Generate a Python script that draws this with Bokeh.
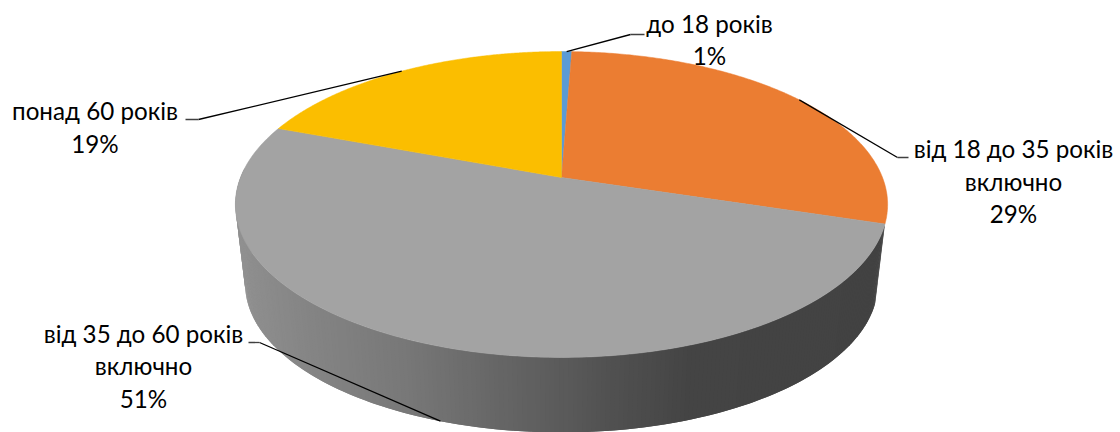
import numpy as np
from bokeh.plotting import figure
from bokeh.models import Range1d
from bokeh.core.properties import value
from bokeh.embed import file_html
from bokeh.resources import INLINE

categories = ["до 18 років", "від 18 до 35 років включно", "від 35 до 60 років включно", "понад 60 років"]
shares = [0.6, 29.2, 50.9, 19.3]
percent_labels = ["1%", "29%", "51%", "19%"]
slice_colors = ["#5B9BD5", "#EB7D32", "#A3A3A3", "#FBBE00"]

label_lines = [
    ["до 18 років", "1%"],
    ["від 18 до 35 років", "включно", "29%"],
    ["від 35 до 60 років", "включно", "51%"],
    ["понад 60 років", "19%"],
]
label_centers = [709, 1013, 143, 94.5]
label_tops = [22.5, 148, 332.5, 110]
elbows = [(630, 34, 644), (897, 157, 908), (259, 342, 248), (198, 119, 185)]

CX, CY, A, B, K = 561, 177, 321.0, 148.2, 0.1765
SCALE, DROP = 0.97, 80.4
FONT = "Lato"
FONT_PX = 24.2
LINE_PX = 32.5


def top_point(frac):
    t = 2 * np.pi * np.asarray(frac, dtype=float)
    u, v = np.sin(t), np.cos(t)
    w = 1 + K * v
    return CX + A * u / w, CY - B * v / w


def bottom_point(frac):
    x, y = top_point(frac)
    return CX + (x - CX) * SCALE, CY + (y - CY) * SCALE + DROP


def wall_color(x):
    g = np.interp(x, [235, 300, 400, 500, 561, 600, 690, 890], [144, 133, 120, 101, 90, 82, 68, 66])
    h = int(round(float(g)))
    return f"#{h:02x}{h:02x}{h:02x}"


p = figure(width=1120, height=432, output_backend="svg", toolbar_location=None,
           x_range=Range1d(0, 1120), y_range=Range1d(432, 0), min_border=0,
           outline_line_color=None, background_fill_color="white", border_fill_color="white")
p.axis.visible = False
p.grid.visible = False

total = sum(shares)
edges = np.cumsum([0] + shares) / total

# side wall of the large slice
fr = np.linspace(edges[2], min(edges[3], 0.76), 240)
wx, wy, wc = [], [], []
for j in range(len(fr) - 1):
    a = fr[j]
    b = fr[min(j + 2, len(fr) - 1)]
    x1, y1 = top_point([a, b])
    x2, y2 = bottom_point([b, a])
    wx.append(list(x1) + list(x2))
    wy.append(list(y1) + list(y2))
    wc.append(wall_color((x1[0] + x1[1]) / 2))
p.patches(wx, wy, fill_color=wc, line_color=None)

# top faces
for i, c in enumerate(slice_colors):
    f = np.linspace(edges[i], edges[i + 1], 200)
    x, y = top_point(f)
    p.patch([CX] + list(x), [CY] + list(y), fill_color=c, line_color=c, line_width=0.5)

# leader lines
for i, (ex, ey, ex2) in enumerate(elbows):
    mid = (edges[i] + edges[i + 1]) / 2
    sx, sy = bottom_point(mid) if i == 2 else top_point(mid)
    p.line([float(sx), ex], [float(sy), ey], line_color="#000000", line_width=1.3)
    p.line([ex, ex2], [ey, ey], line_color="#404040", line_width=1.3)

# labels
for lines, cx, top in zip(label_lines, label_centers, label_tops):
    ys = [top + k * LINE_PX for k in range(len(lines))]
    p.text([cx] * len(lines), ys, text=lines, text_align="center", text_baseline="middle",
           text_font=value(FONT), text_font_size=f"{FONT_PX}px", text_color="#000000")

open("out.html", "w").write(file_html(p, INLINE))
